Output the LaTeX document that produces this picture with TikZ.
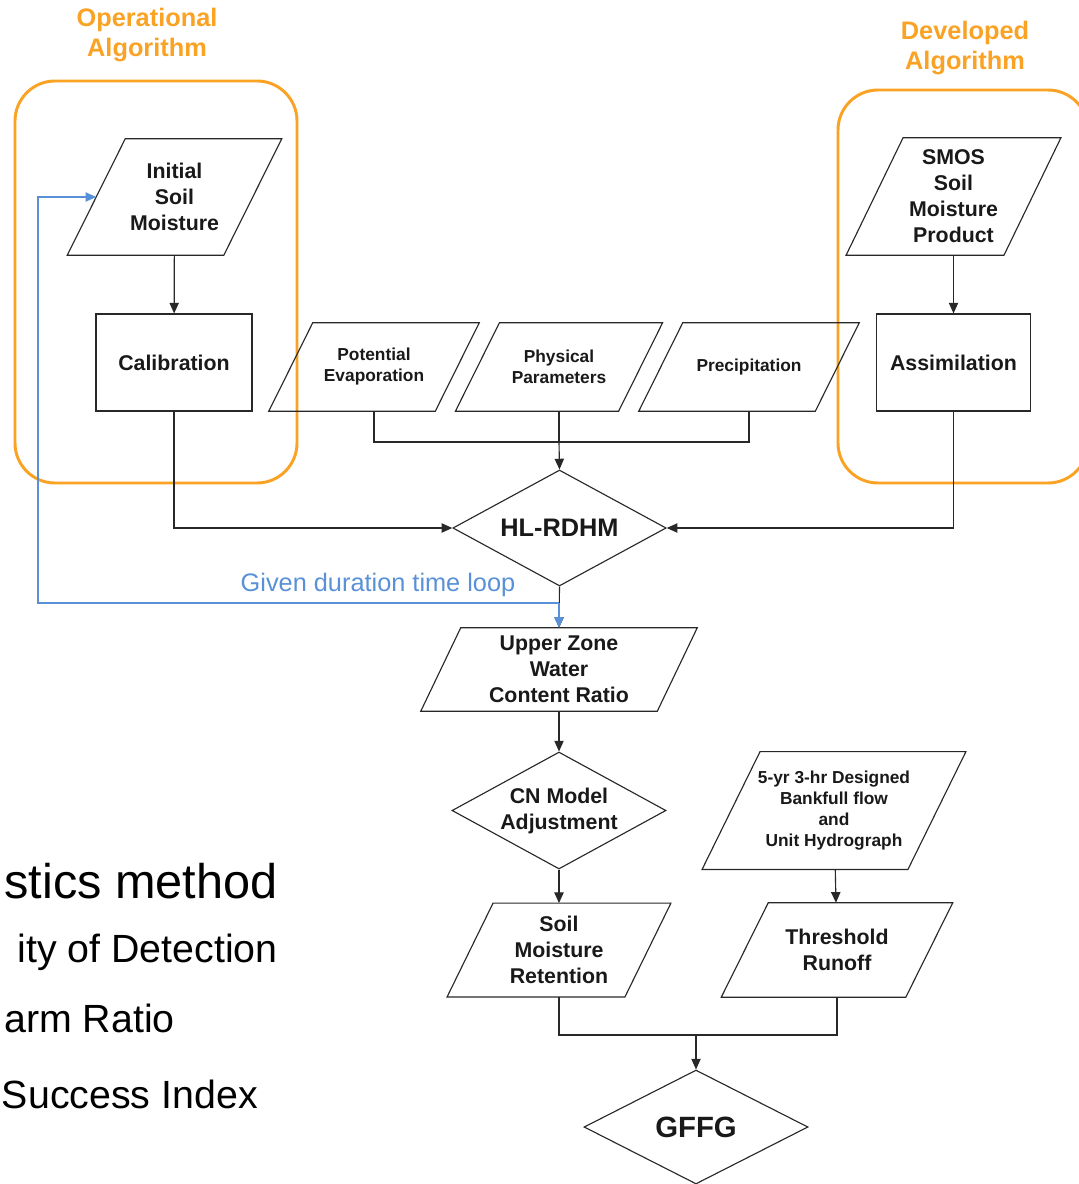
\documentclass[tikz,border=0pt]{standalone}
\usepackage{fontspec}
\setmainfont{Liberation Sans}
\usepackage{tikz}
\usetikzlibrary{shapes.geometric,arrows.meta}
\definecolor{algoorange}{RGB}{250,162,35}
\definecolor{loopblue}{RGB}{88,145,215}
\definecolor{boxline}{RGB}{40,40,40}
\tikzset{
  dat/.style={rectangle,inner sep=0pt,align=center,text=black!90,font=\bfseries\fontsize{16}{19.5}\selectfont},
  smalldat/.style={dat,font=\bfseries\fontsize{13}{15.75}\selectfont},
  proc/.style={rectangle,draw=boxline,line width=0.85pt,inner sep=0pt,text=black!90,font=\bfseries\fontsize{16}{19.5}\selectfont},
  dec/.style={diamond,aspect=1.84,draw=boxline,line width=0.85pt,inner sep=0pt,align=center,text=black!90,font=\bfseries\fontsize{16}{19.5}\selectfont},
  algobox/.style={draw=algoorange,line width=2.2pt,rounded corners=30pt},
  algotitle/.style={align=center,text=algoorange,font=\bfseries\fontsize{19}{22.5}\selectfont},
  flow/.style={draw=boxline,line width=0.85pt},
  timeloop/.style={draw=loopblue,line width=0.85pt},
  slidetext/.style={anchor=base east,inner sep=0pt,text=black,font=\fontsize{29.5}{36}\selectfont},
  >={Triangle[length=8pt,width=7pt]}
}
\newcommand\paraframe[2]{\draw[flow] ([xshift=#2*0.75pt]#1.north west) -- ([xshift=#2*0.75pt]#1.north east)
  -- ([xshift=-#2*0.75pt]#1.south east) -- ([xshift=-#2*0.75pt]#1.south west) -- cycle;}
\begin{document}
    \begin{tikzpicture}[x=0.75pt,y=-0.75pt]
        \useasboundingbox (0,0) rectangle (1078,1184);
        \draw[algobox] (15,81) rectangle (297,483);
        \draw[algobox] (838,90) rectangle (1088,483);
        \node[algotitle] (optitle) at (147,35) {Operational\\Algorithm};
        \node[algotitle] (devtitle) at (965,48) {Developed\\Algorithm};
        \node[dat,minimum width=117pt,minimum height=87pt] (ism) at (174.5,197) {Initial\\Soil\\Moisture};
        \paraframe{ism}{29}
        \node[proc,minimum width=117pt,minimum height=72.75pt] (cal) at (174,362.5) {Calibration};
        \node[dat,minimum width=118pt,minimum height=87.75pt] (smos) at (953.5,196.5) {SMOS\\Soil\\Moisture\\Product};
        \paraframe{smos}{28.5}
        \node[proc,minimum width=116pt,minimum height=72.75pt] (asm) at (953.5,362.5) {Assimilation};
        \node[smalldat,minimum width=124.5pt,minimum height=66pt] (pe) at (374,367) {Potential\\Evaporation};
        \paraframe{pe}{22}
        \node[smalldat,minimum width=122pt,minimum height=66pt] (pp) at (559,367) {Physical\\Parameters};
        \paraframe{pp}{22}
        \node[smalldat,minimum width=132pt,minimum height=66pt] (pr) at (749,367) {Precipitation};
        \paraframe{pr}{22}
        \node[dec,minimum width=160pt,minimum height=87pt,font=\bfseries\fontsize{19}{22}\selectfont] (hl) at (559.5,528) {HL-RDHM};
        \node[dat,minimum width=177pt,minimum height=62.25pt] (uz) at (559,669.5) {Upper Zone\\Water\\Content Ratio};
        \paraframe{uz}{20}
        \node[dec,minimum width=160.5pt,minimum height=87.75pt] (cn) at (559,810.5) {CN Model\\Adjustment};
        \node[dat,minimum width=133pt,minimum height=70pt] (smr) at (559,950) {Soil\\Moisture\\Retention};
        \paraframe{smr}{23}
        \node[smalldat,minimum width=154pt,minimum height=88pt] (bkf) at (834,810.5) {5-yr 3-hr Designed\\Bankfull flow\\and\\Unit Hydrograph};
        \paraframe{bkf}{29}
        \node[dat,minimum width=138pt,minimum height=70.5pt] (thr) at (837,950) {Threshold\\Runoff};
        \paraframe{thr}{23.5}
        \node[dec,minimum width=168pt,minimum height=85.5pt,font=\bfseries\fontsize{22}{26}\selectfont] (gffg) at (696,1127) {GFFG};
        \coordinate (jin) at (559,442);
        \coordinate (jout) at (696,1035);
        \coordinate (lp) at (559,603);
        \coordinate (lc) at (38,603);
        \draw[flow,->] (ism) -- (cal);
        \draw[flow,->] (smos) -- (asm);
        \draw[flow] (pe.south) |- (jin);
        \draw[flow] (pr.south) |- (jin);
        \draw[flow] (pp.south) -- (jin);
        \draw[flow,->] (jin) -- (hl.north);
        \draw[flow,->] (cal.south) |- (hl.west);
        \draw[flow,->] (asm.south) |- (hl.east);
        \draw[flow,->] (hl.south) -- (uz.north);
        \draw[timeloop,->] (lp) -- (uz.north);
        \draw[timeloop,->] (lp) -- (lc) |- (ism.west);
        \node[text=loopblue,font=\fontsize{19}{22}\selectfont] (looplbl) at (378,585) {Given duration time loop};
        \draw[flow,->] (uz) -- (cn);
        \draw[flow,->] (cn) -- (smr);
        \draw[flow,->] (bkf) -- (thr);
        \draw[flow] (smr.south) |- (jout);
        \draw[flow] (thr.south) |- (jout);
        \draw[flow,->] (jout) -- (gffg.north);
        \node[slidetext,font=\fontsize{36.5}{44}\selectfont] (st1) at (278,898) {stics method};
        \node[slidetext] (st2) at (278,962) {ity of Detection};
        \node[slidetext] (st3) at (175,1032) {arm Ratio};
        \node[slidetext] (st4) at (258,1108) {Success Index};
    \end{tikzpicture}
\end{document}
